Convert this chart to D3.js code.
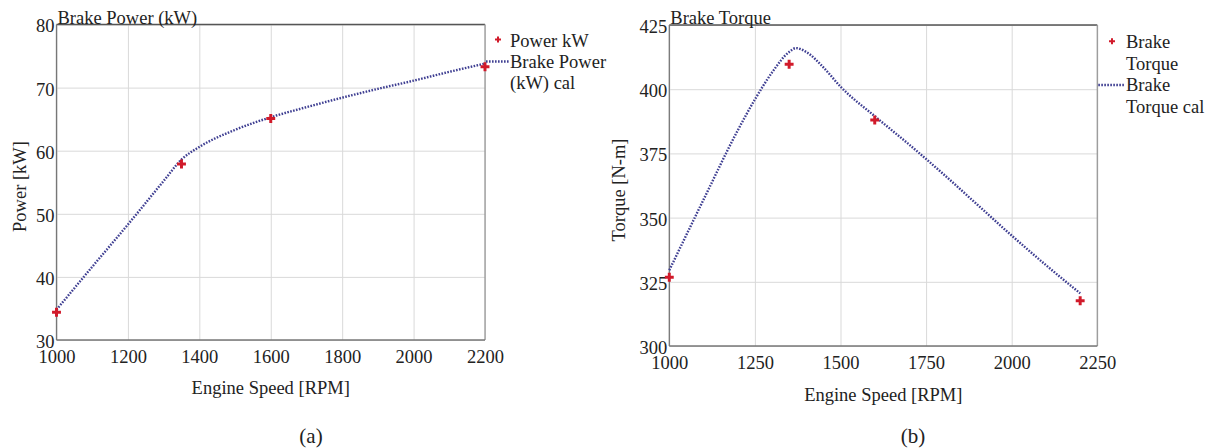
<!DOCTYPE html>
<html><head><meta charset="utf-8">
<script src="https://cdn.jsdelivr.net/npm/d3@7"></script>
<style>
body{margin:0;background:#fff;}
svg text{font-family:"Liberation Serif","Times New Roman",serif;fill:#222;}
</style></head>
<body><svg id="c" width="1213" height="448"></svg>
<script>
// ---- Data ----
const powerRpm = [1000, 1350, 1600, 2200];
const powerKw = [34.4, 57.9, 65.1, 73.3];
const powerCalRpm = [1000, 1100, 1200, 1300, 1350, 1400, 1500, 1600, 1700, 1800, 1900, 2000, 2100, 2200];
const powerCalKw = [34.8, 41.6, 48.3, 55.2, 58.6, 60.6, 63.3, 65.3, 66.9, 68.4, 69.8, 71.1, 72.5, 73.8];

const torqueRpm = [1000, 1350, 1600, 2200];
const torqueNm = [326.8, 409.7, 388.0, 317.6];
const torqueCalRpm = [1000, 1100, 1200, 1250, 1300, 1350, 1370, 1400, 1450, 1500, 1600, 1700, 1800, 1900, 2000, 2100, 2200];
const torqueCalNm = [329.5, 357, 384, 396, 406.5, 414.5, 416, 414.5, 408.5, 401, 389.5, 378.5, 367, 355, 343, 331.5, 320.5];

const powerXTicks = [1000, 1200, 1400, 1600, 1800, 2000, 2200];
const powerYTicks = [30, 40, 50, 60, 70, 80];
const torqueXTicks = [1000, 1250, 1500, 1750, 2000, 2250];
const torqueYTicks = [300, 325, 350, 375, 400, 425];

const svg = d3.select("#c");
const RED = "#d11a2a", LINE = "#3f3f92";
const FS = 18.5;
const FF = "Liberation Serif, Times New Roman, serif";

function panel(cfg) {
  const x = d3.scaleLinear().domain(cfg.xDomain).range([cfg.x0, cfg.x1]);
  const y = d3.scaleLinear().domain(cfg.yDomain).range([cfg.y1, cfg.y0]);
  const g = svg.append("g");
  // grid
  g.append("g").attr("transform", `translate(0,${cfg.y1})`)
    .call(d3.axisBottom(x).tickValues(cfg.xTicks).tickSize(-(cfg.y1 - cfg.y0)).tickFormat(""))
    .call(a => a.select(".domain").remove())
    .call(a => a.selectAll("line").attr("stroke", "#d9d9d9").attr("stroke-width", 1));
  g.append("g").attr("transform", `translate(${cfg.x0},0)`)
    .call(d3.axisLeft(y).tickValues(cfg.yTicks).tickSize(-(cfg.x1 - cfg.x0)).tickFormat(""))
    .call(a => a.select(".domain").remove())
    .call(a => a.selectAll("line").attr("stroke", "#d9d9d9").attr("stroke-width", 1));
  // frame
  g.append("line").attr("x1", cfg.x0).attr("x2", cfg.x1).attr("y1", cfg.y0).attr("y2", cfg.y0).attr("stroke", "#555").attr("stroke-width", 1.3);
  g.append("line").attr("x1", cfg.x1).attr("x2", cfg.x1).attr("y1", cfg.y0).attr("y2", cfg.y1).attr("stroke", "#999").attr("stroke-width", 1.3);
  g.append("line").attr("x1", cfg.x0).attr("x2", cfg.x1).attr("y1", cfg.y1).attr("y2", cfg.y1).attr("stroke", "#777").attr("stroke-width", 1.3);
  g.append("line").attr("x1", cfg.x0).attr("x2", cfg.x0).attr("y1", cfg.y0).attr("y2", cfg.y1).attr("stroke", "#777").attr("stroke-width", 1.3);
  // tick labels
  const xa = g.append("g").attr("transform", `translate(0,${cfg.y1})`)
    .call(d3.axisBottom(x).tickValues(cfg.xTicks).tickSize(0).tickPadding(cfg.xPad).tickFormat(d3.format("d")));
  xa.attr("font-family", FF).attr("font-size", FS);
  xa.select(".domain").remove();
  xa.selectAll("text").attr("fill", "#222");
  const ya = g.append("g").attr("transform", `translate(${cfg.x0},0)`)
    .call(d3.axisLeft(y).tickValues(cfg.yTicks).tickSize(0).tickPadding(2).tickFormat(d3.format("d")));
  ya.attr("font-family", FF).attr("font-size", FS);
  ya.select(".domain").remove();
  ya.selectAll("text").attr("fill", "#222").attr("dy", "0.4em");
  // calc line
  const line = d3.line().x(d => x(d[0])).y(d => y(d[1])).curve(d3.curveMonotoneX);
  g.append("path").datum(cfg.calX.map((v, i) => [v, cfg.calY[i]]))
    .attr("d", line).attr("fill", "none").attr("stroke", LINE).attr("stroke-width", 2.4)
    .attr("stroke-dasharray", "1.6,1.4");
  // markers
  g.selectAll("path.mk").data(cfg.ptX.map((v, i) => [v, cfg.ptY[i]])).join("path")
    .attr("class", "mk")
    .attr("transform", d => `translate(${x(d[0])},${y(d[1])})`)
    .attr("d", d3.symbol(d3.symbolCross, 44)).attr("fill", RED);
  // titles
  g.append("text").attr("x", cfg.x0 + 1).attr("y", cfg.y0 - 1).attr("font-size", FS).text(cfg.title);
  g.append("text").attr("x", (cfg.x0 + cfg.x1) / 2).attr("y", cfg.xTitleY).attr("text-anchor", "middle").attr("font-size", FS).text("Engine Speed [RPM]");
  g.append("text").attr("transform", `translate(${cfg.yTitleX},${cfg.yTitleC}) rotate(-90)`).attr("text-anchor", "middle").attr("font-size", FS).text(cfg.yTitle);
  g.append("text").attr("x", cfg.capX).attr("y", 443).attr("text-anchor", "middle").attr("font-size", 21).text(cfg.caption);
  // legend
  const lg = g.append("g");
  lg.append("path").attr("transform", `translate(${cfg.legMx},${cfg.legY[0] - 1})`).attr("d", d3.symbol(d3.symbolCross, 20)).attr("fill", RED);
  lg.append("line").attr("x1", cfg.x1 + 1).attr("x2", cfg.legTx - 1).attr("y1", cfg.legLineY).attr("y2", cfg.legLineY)
    .attr("stroke", LINE).attr("stroke-width", 2.4).attr("stroke-dasharray", "1.6,1.4");
  cfg.legText.forEach((t, i) => {
    lg.append("text").attr("x", cfg.legTx).attr("y", cfg.legY[i]).attr("dy", "0.33em").attr("font-size", FS).text(t);
  });
}

panel({
  xDomain: [1000, 2200], yDomain: [30, 80], x0: 56.5, x1: 485, y0: 24.5, y1: 340,
  xTicks: powerXTicks, yTicks: powerYTicks, xPad: 10,
  calX: powerCalRpm, calY: powerCalKw, ptX: powerRpm, ptY: powerKw,
  title: "Brake Power (kW)", yTitle: "Power [kW]", yTitleX: 26, yTitleC: 186.5, xTitleY: 394,
  caption: "(a)", capX: 311,
  legMx: 498, legTx: 510, legLineY: 61.5, legY: [40.5, 61.5, 82.5],
  legText: ["Power kW", "Brake Power", "(kW) cal"]
});
panel({
  xDomain: [1000, 2250], yDomain: [300, 425], x0: 669.3, x1: 1097.3, y0: 25, y1: 346,
  xTicks: torqueXTicks, yTicks: torqueYTicks, xPad: 10,
  calX: torqueCalRpm, calY: torqueCalNm, ptX: torqueRpm, ptY: torqueNm,
  title: "Brake Torque", yTitle: "Torque [N-m]", yTitleX: 625, yTitleC: 190, xTitleY: 401,
  caption: "(b)", capX: 913,
  legMx: 1112, legTx: 1126, legLineY: 85, legY: [42.3, 64.3, 85, 107.3],
  legText: ["Brake", "Torque", "Brake", "Torque cal"]
});
</script></body></html>
